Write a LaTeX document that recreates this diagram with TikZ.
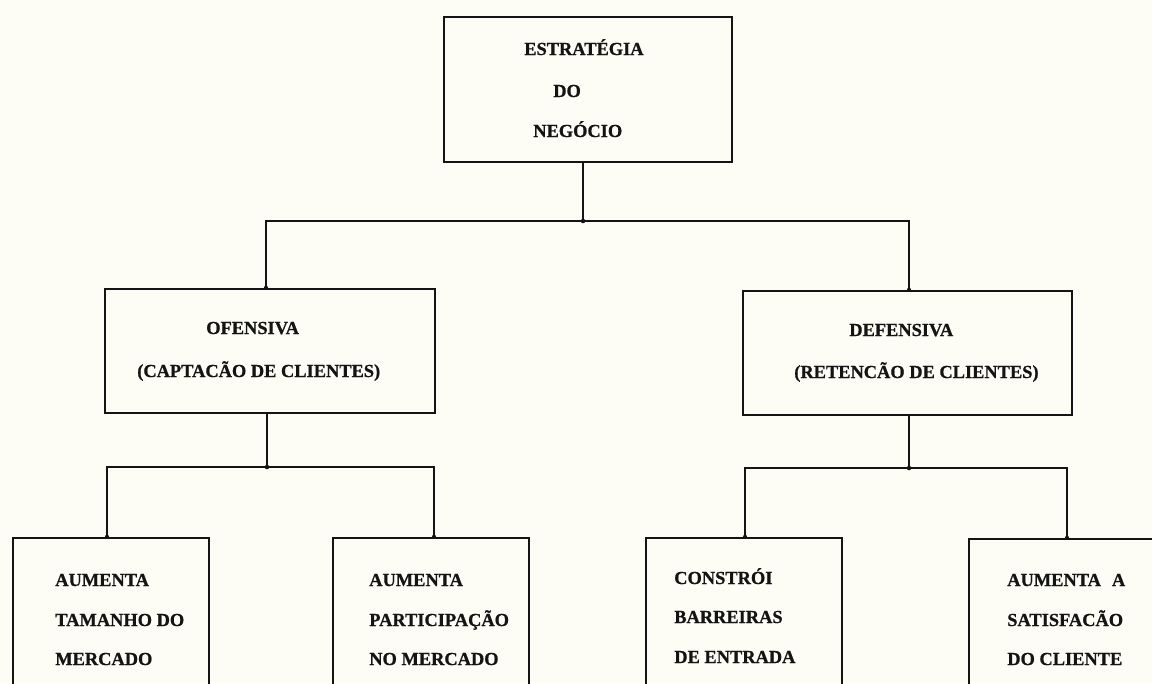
\documentclass[tikz,border=0pt]{standalone}
\usepackage{fontspec}
\setmainfont{Liberation Serif}[BoldFeatures={FakeBold=0.8}]
\usetikzlibrary{fit}
\definecolor{paper}{RGB}{253,253,246}
\definecolor{ink}{RGB}{20,20,20}

\begin{document}
\begin{tikzpicture}[x=0.75pt,y=-0.75pt,
  box/.style={draw=ink,line width=2pt,inner sep=0pt,rectangle},
  conn/.style={draw=ink,line width=1.6pt},
  lbl/.style={inner sep=0pt,anchor=base west,text=ink,
    font=\fontsize{13.8}{16}\selectfont\bfseries},
  dot/.style={fill=ink}]

  % page
  \useasboundingbox (0,0) rectangle (1152,683);
  \fill[paper] (0,0) rectangle (1152,683);
  \clip (0,0) rectangle (1152,683);

  % boxes
  \node[box,fit={(444,17) (732,162)}] (top) {};
  \node[box,fit={(105,289) (435,413)}] (ofe) {};
  \node[box,fit={(743,291) (1072,415)}] (def) {};
  \node[box,fit={(13,538) (209,710)}] (b1) {};
  \node[box,fit={(333,538) (529,710)}] (b2) {};
  \node[box,fit={(646,538) (842,710)}] (b3) {};
  \node[box,fit={(969,539) (1165,710)}] (b4) {};

  % labels
  \node[lbl] (t1) at (524,55) {ESTRATÉGIA};
  \node[lbl] (t2) at (553,97) {DO};
  \node[lbl] (t3) at (533,137) {NEGÓCIO};

  \node[lbl] (o1) at (206,334) {OFENSIVA};
  \node[lbl] (o2) at (137,377) {(CAPTACÃO DE CLIENTES)};

  \node[lbl] (d1) at (849,336) {DEFENSIVA};
  \node[lbl] (d2) at (794,378) {(RETENCÃO DE CLIENTES)};

  \node[lbl] (p1) at (55,586) {AUMENTA};
  \node[lbl] (p2) at (55,626) {TAMANHO DO};
  \node[lbl] (p3) at (55,665) {MERCADO};

  \node[lbl] (q1) at (369,586) {AUMENTA};
  \node[lbl] (q2) at (369,626) {PARTICIPAÇÃO};
  \node[lbl] (q3) at (369,665) {NO MERCADO};

  \node[lbl] (r1) at (674,584) {CONSTRÓI};
  \node[lbl] (r2) at (674,623) {BARREIRAS};
  \node[lbl] (r3) at (674,663) {DE ENTRADA};

  \node[lbl] (s1) at (1007,586) {AUMENTA\hspace{0.6em}A};
  \node[lbl] (s2) at (1007,626) {SATISFACÃO};
  \node[lbl] (s3) at (1007,665) {DO CLIENTE};

  % junction points
  \coordinate (j0) at (583,221);
  \coordinate (j0l) at (266,221);
  \coordinate (j0r) at (909,221);
  \coordinate (j1) at (267,467);
  \coordinate (j1l) at (107,467);
  \coordinate (j1r) at (434,467);
  \coordinate (j2) at (909,468);
  \coordinate (j2l) at (745,468);
  \coordinate (j2r) at (1067,468);

  % connectors
  \draw[conn] (top.south -| j0) -- (j0);
  \draw[conn] (j0l |- ofe.north) -- (j0l) -- (j0r) -- (j0r |- def.north);

  \draw[conn] (ofe.south -| j1) -- (j1);
  \draw[conn] (j1l |- b1.north) -- (j1l) -- (j1r) -- (j1r |- b2.north);

  \draw[conn] (def.south -| j2) -- (j2);
  \draw[conn] (j2l |- b3.north) -- (j2l) -- (j2r) -- (j2r |- b4.north);

  % junction dots
  \foreach \p in {j0,j1,j2} \fill[dot] (\p) circle (1.7pt);
  \fill[dot] (j0l |- ofe.north) circle (1.5pt);
  \fill[dot] (j0r |- def.north) circle (1.5pt);
  \fill[dot] (j1l |- b1.north) circle (1.5pt);
  \fill[dot] (j1r |- b2.north) circle (1.5pt);
  \fill[dot] (j2l |- b3.north) circle (1.5pt);
  \fill[dot] (j2r |- b4.north) circle (1.5pt);
\end{tikzpicture}
\end{document}
